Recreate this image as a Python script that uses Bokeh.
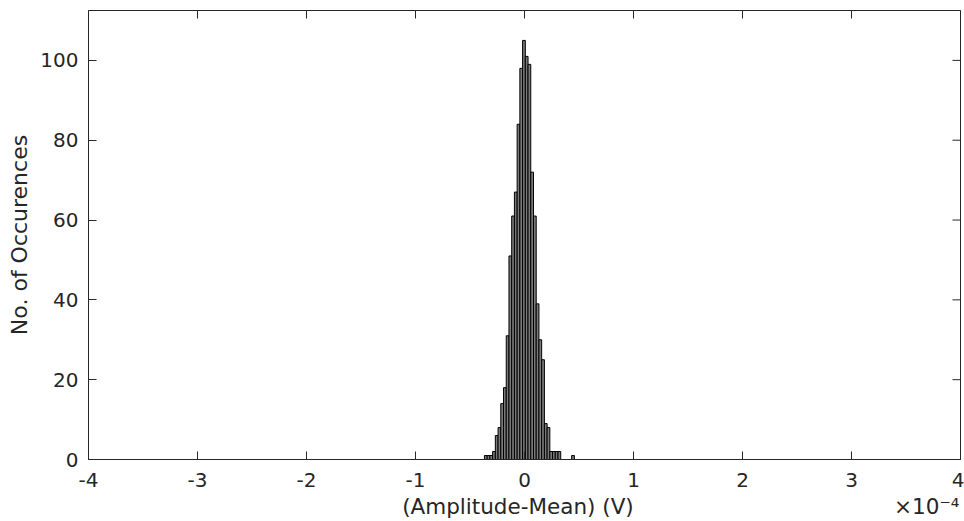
import math
from bokeh.plotting import figure
from bokeh.models import Range1d, LinearAxis, FixedTicker
from bokeh.embed import file_html
from bokeh.resources import INLINE

# ---- data (x in units of 1e-4 V) ----
bin_centers = [-0.355, -0.33, -0.305, -0.28, -0.255, -0.23, -0.205, -0.18,
               -0.155, -0.13, -0.105, -0.08, -0.055, -0.03, -0.005, 0.02,
               0.045, 0.07, 0.095, 0.12, 0.145, 0.17, 0.195, 0.22, 0.245,
               0.27, 0.295, 0.32, 0.445]
counts = [1, 1, 1, 2, 6, 8, 14, 18, 31, 51, 61, 67, 84, 98, 105, 101,
          99, 72, 61, 39, 30, 25, 9, 8, 2, 2, 2, 2, 1]
bin_width = 0.025
x_ticks = [-4, -3, -2, -1, 0, 1, 2, 3, 4]
x_tick_labels = ["-4", "-3", "-2", "-1", "0", "1", "2", "3", "4"]
y_ticks = [0, 20, 40, 60, 80, 100]
x_label = "(Amplitude-Mean) (V)"
y_label = "No. of Occurences"
exp_text = "×10⁻⁴"
x_min, x_max = -4, 4
y_min, y_max = 0, 112.5
# where the bottom-row texts sit along the x axis
x_label_pos = -0.06
exp_pos = 3.69

FONT = "DejaVu Sans"
TXT = "#262626"

p = figure(width=964, height=521, output_backend="svg", toolbar_location=None,
           x_range=Range1d(x_min, x_max), y_range=Range1d(y_min, y_max),
           min_border_left=88, min_border_right=4, min_border_top=10,
           min_border_bottom=62)
p.background_fill_color = "white"
p.border_fill_color = "white"
p.grid.visible = False
p.outline_line_color = TXT
p.outline_line_width = 1

p.vbar(x=bin_centers, top=counts, width=bin_width, bottom=0,
       fill_color="#7a7a7a", line_color="black", line_width=1)

# mirrored inward ticks on the top and right edges (half clipped by the frame)
p.scatter(x=x_ticks, y=[y_max] * len(x_ticks), marker="dash", size=16,
          angle=math.pi / 2, line_color=TXT, line_width=1)
p.scatter(x=[x_max] * len(y_ticks), y=y_ticks, marker="dash", size=16,
          line_color=TXT, line_width=1)

def style(ax, ticks, size):
    ax.ticker = FixedTicker(ticks=ticks)
    ax.major_tick_in = 8
    ax.major_tick_out = 0
    ax.minor_tick_in = 0
    ax.minor_tick_out = 0
    ax.axis_line_color = TXT
    ax.major_tick_line_color = TXT
    ax.major_label_text_font = FONT
    ax.major_label_text_color = TXT
    ax.major_label_text_font_size = size
    ax.axis_label_text_font = FONT
    ax.axis_label_text_color = TXT
    ax.axis_label_text_font_style = "normal"

xa = p.xaxis[0]
style(xa, x_ticks, "20px")
xa.major_label_overrides = {t: s for t, s in zip(x_ticks, x_tick_labels)}
xa.major_label_standoff = 13

ya = p.yaxis[0]
style(ya, y_ticks, "20px")
ya.major_label_standoff = 10
ya.axis_label = y_label
ya.axis_label_text_font_size = "22px"
ya.axis_label_standoff = 5

# bottom row: axis title and the x10^-4 multiplier on one line
lab_ax = LinearAxis()
style(lab_ax, [x_label_pos, exp_pos], "21.5px")
lab_ax.major_label_overrides = {x_label_pos: x_label, exp_pos: exp_text}
lab_ax.axis_line_color = None
lab_ax.major_tick_line_color = None
lab_ax.major_tick_in = 0
lab_ax.major_label_standoff = 4
p.add_layout(lab_ax, "below")

open("out.html", "w").write(file_html(p, INLINE))
